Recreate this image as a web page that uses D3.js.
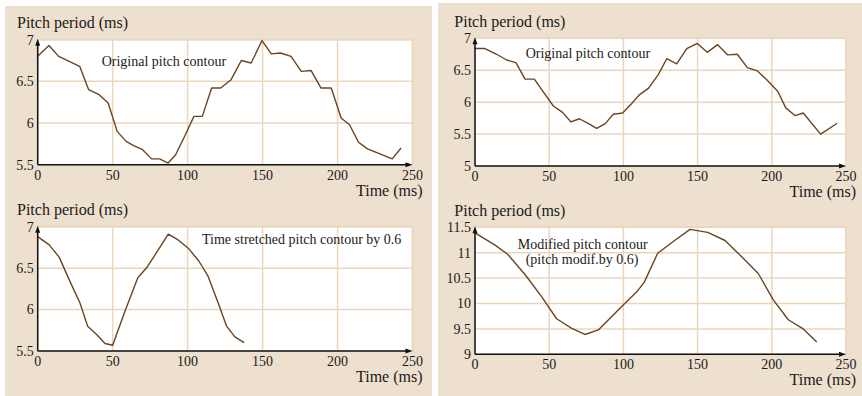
<!DOCTYPE html>
<html>
<head>
<meta charset="utf-8">
<script src="https://cdn.jsdelivr.net/npm/d3@7"></script>
<style>
  html, body { margin: 0; padding: 0; background: #ffffff; }
  svg { display: block; }
  text { font-family: "Liberation Serif", "Times New Roman", serif; fill: #1a1a1a; }
</style>
</head>
<body>
<svg id="chart" width="862" height="396"></svg>
<script>
// ---------------- DATA ----------------
const xTicks = [0, 50, 100, 150, 200, 250];

// Top-left: original pitch contour
const tlTime  = [0, 7.5, 14, 21, 28, 34, 41, 47, 53, 59, 64, 70, 76, 81.3, 87, 92, 98.5, 104.2, 109.8, 116, 122, 129, 135.8, 142.4, 149.6, 155.8, 162, 169, 175.8, 182.4, 189, 195.8, 202.4, 208, 214, 220, 236.5, 242.4];
const tlPitch = [6.80, 6.93, 6.80, 6.74, 6.68, 6.40, 6.34, 6.24, 5.90, 5.78, 5.73, 5.68, 5.57, 5.57, 5.52, 5.62, 5.86, 6.08, 6.08, 6.42, 6.42, 6.52, 6.75, 6.72, 6.99, 6.83, 6.84, 6.80, 6.62, 6.63, 6.42, 6.42, 6.06, 5.98, 5.77, 5.69, 5.57, 5.70];
const tlTicks = [5.5, 6, 6.5, 7];

// Top-right: original pitch contour
const trTime  = [0, 6.7, 14.6, 21.3, 27.6, 33.7, 40, 46, 52.8, 59, 64.7, 70.3, 75.9, 82, 87.6, 93.2, 99.5, 105.6, 110.5, 117, 123.5, 129.2, 135.9, 142.7, 149.8, 156.5, 163.5, 170.3, 176.8, 183.5, 190.2, 196.6, 204, 209.4, 215.6, 221.2, 232.9, 244.1];
const trPitch = [6.84, 6.84, 6.75, 6.66, 6.62, 6.36, 6.36, 6.16, 5.94, 5.84, 5.69, 5.74, 5.67, 5.59, 5.66, 5.81, 5.83, 5.98, 6.11, 6.22, 6.43, 6.68, 6.60, 6.84, 6.92, 6.78, 6.90, 6.74, 6.75, 6.54, 6.49, 6.35, 6.17, 5.91, 5.79, 5.83, 5.50, 5.67];
const trTicks = [5, 5.5, 6, 6.5, 7];

// Bottom-left: time stretched pitch contour by 0.6
const blTime  = [0, 7.7, 14.4, 21.5, 28.2, 33.3, 39.3, 44.9, 50, 58.2, 66.7, 73.3, 80.4, 87.1, 93.7, 101, 107.7, 113.7, 120.4, 126, 131.5, 137.7];
const blPitch = [6.88, 6.78, 6.63, 6.34, 6.08, 5.80, 5.70, 5.59, 5.57, 5.98, 6.38, 6.52, 6.72, 6.91, 6.84, 6.73, 6.58, 6.40, 6.08, 5.80, 5.67, 5.60];
const blTicks = [5.5, 6, 6.5, 7];

// Bottom-right: modified pitch contour (pitch modif. by 0.6)
const brTime  = [0, 13.5, 22, 33.7, 45, 55, 65.2, 74.1, 83.1, 91, 99.9, 109, 114.1, 123.1, 133.6, 144.9, 156.8, 168.5, 179.7, 190.9, 201, 211.1, 221.2, 230.3];
const brPitch = [11.39, 11.15, 10.97, 10.57, 10.13, 9.70, 9.51, 9.39, 9.48, 9.71, 9.97, 10.23, 10.42, 10.99, 11.22, 11.46, 11.40, 11.24, 10.92, 10.59, 10.07, 9.68, 9.50, 9.24];
const brTicks = [9, 9.5, 10, 10.5, 11, 11.5];

const yLabel = "Pitch period (ms)";
const xLabel = "Time (ms)";

// ---------------- LAYOUT ----------------
const svg = d3.select("#chart");
const BG = "#eee0cf", GRID = "#ebd6bd", LINE = "#6b4420", AXIS = "#111111";

svg.append("rect").attr("x", 5).attr("y", 6).attr("width", 427).attr("height", 390).attr("fill", BG);
svg.append("rect").attr("x", 438).attr("y", 3).attr("width", 424).attr("height", 393).attr("fill", BG);

const defs = svg.append("defs");

const panels = [
  { t: tlTime, v: tlPitch, ticks: tlTicks, x0: 37.7, x1: 412.5, yT: 39.7, yB: 164.7,
    notes: [{ x: 101.7, y: 65.7, s: "Original pitch contour", a: "start" }] },
  { t: trTime, v: trPitch, ticks: trTicks, x0: 475, x1: 846, yT: 38.3, yB: 166,
    notes: [{ x: 525.7, y: 58.3, s: "Original pitch contour", a: "start" }] },
  { t: blTime, v: blPitch, ticks: blTicks, x0: 37.7, x1: 412.5, yT: 226.7, yB: 351,
    notes: [{ x: 202, y: 244, s: "Time stretched pitch contour by 0.6", a: "start" }] },
  { t: brTime, v: brPitch, ticks: brTicks, x0: 475, x1: 846, yT: 227.3, yB: 354.3,
    notes: [{ x: 517.7, y: 249, s: "Modified pitch contour", a: "start" },
            { x: 525.7, y: 264, s: "(pitch modif.by 0.6)", a: "start" }] }
];

panels.forEach((p) => {
  const x = d3.scaleLinear().domain([0, 250]).range([p.x0, p.x1]);
  const y = d3.scaleLinear().domain(d3.extent(p.ticks)).range([p.yB, p.yT]);
  const g = svg.append("g");

  // plot background
  g.append("rect").attr("x", p.x0).attr("y", p.yT)
    .attr("width", p.x1 - p.x0).attr("height", p.yB - p.yT)
    .attr("fill", "#ffffff").attr("stroke", GRID).attr("stroke-width", 1.5);

  // grid
  g.selectAll(".vg").data(xTicks.slice(1)).enter().append("line")
    .attr("x1", d => x(d)).attr("x2", d => x(d)).attr("y1", p.yT).attr("y2", p.yB)
    .attr("stroke", GRID).attr("stroke-width", 1.5);
  g.selectAll(".hg").data(p.ticks.slice(1)).enter().append("line")
    .attr("x1", p.x0).attr("x2", p.x1).attr("y1", d => y(d)).attr("y2", d => y(d))
    .attr("stroke", GRID).attr("stroke-width", 1.5);

  // data line
  const pts = p.t.map((t, i) => [t, p.v[i]]);
  g.append("path").datum(pts)
    .attr("fill", "none").attr("stroke", LINE).attr("stroke-width", 1.4)
    .attr("stroke-linejoin", "round")
    .attr("d", d3.line().x(d => x(d[0])).y(d => y(d[1])));

  // axes lines
  g.append("line").attr("x1", p.x0).attr("x2", p.x0).attr("y1", p.yB).attr("y2", p.yT + 2)
    .attr("stroke", AXIS).attr("stroke-width", 1.5);
  g.append("line").attr("x1", p.x0).attr("x2", p.x1 - 4).attr("y1", p.yB).attr("y2", p.yB)
    .attr("stroke", AXIS).attr("stroke-width", 1.5);
  // arrowheads
  g.append("path").attr("d", `M${p.x0},${p.yT - 1} L${p.x0 - 2.5},${p.yT + 6} L${p.x0 + 2.5},${p.yT + 6} Z`).attr("fill", AXIS);
  g.append("path").attr("d", `M${p.x1},${p.yB} L${p.x1 - 7},${p.yB - 2.5} L${p.x1 - 7},${p.yB + 2.5} Z`).attr("fill", AXIS);

  // tick labels
  g.selectAll(".yt").data(p.ticks).enter().append("text")
    .attr("x", p.x0 - 4).attr("y", d => y(d)).attr("dy", "0.35em")
    .attr("text-anchor", "end").attr("font-size", 14).text(d => d3.format("")(d));
  g.selectAll(".xt").data(xTicks).enter().append("text")
    .attr("x", d => x(d)).attr("y", p.yB + 15)
    .attr("text-anchor", "middle").attr("font-size", 14).text(d => d);

  // axis titles
  g.append("text").attr("x", p.x0 - 20.7).attr("y", p.yT - 11.5)
    .attr("font-size", 16).text(yLabel);
  g.append("text").attr("x", p.x1 + 10).attr("y", p.yB + 31)
    .attr("text-anchor", "end").attr("font-size", 16).text(xLabel);

  // annotations
  p.notes.forEach(n => {
    g.append("text").attr("x", n.x).attr("y", n.y).attr("text-anchor", n.a)
      .attr("font-size", 14).text(n.s);
  });
});
</script>
</body>
</html>
